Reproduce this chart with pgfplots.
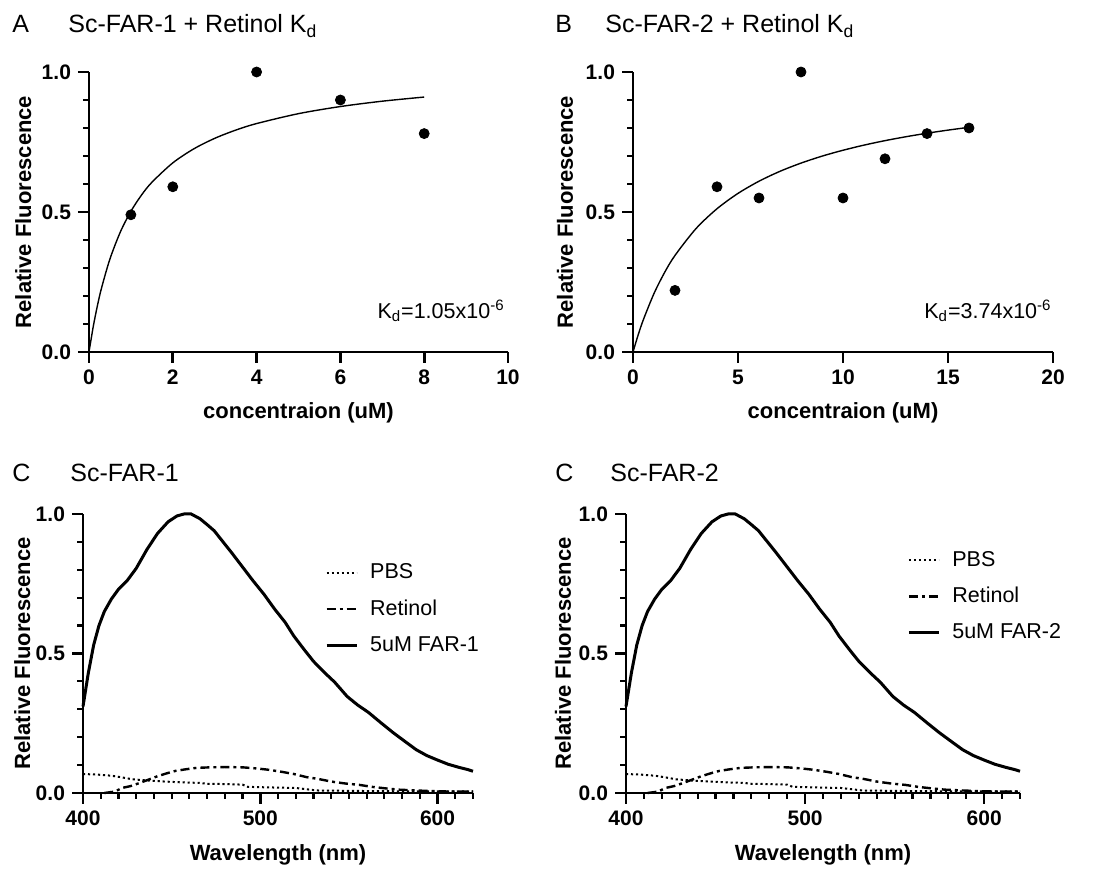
\documentclass[border=0pt]{standalone}
\usepackage{fontspec}
\setmainfont{Liberation Sans}
\usepackage{pgfplots}
\usepackage{pgfplotstable}
\pgfplotsset{compat=1.18}
\usetikzlibrary{calc}

% emission spectra (same scans used for both C panels)
\pgfplotstableread{
nm f
400 0.31
403 0.43
406 0.53
409 0.60
412 0.65
416 0.695
420 0.73
425 0.762
430 0.805
436 0.872
442 0.930
448 0.972
453 0.993
457 1.000
461 1.000
466 0.983
470 0.962
474 0.940
479 0.900
484 0.860
490 0.810
496 0.760
502 0.713
508 0.660
514 0.612
519 0.562
525 0.512
530 0.472
536 0.433
542 0.397
549 0.346
555 0.315
561 0.289
568 0.252
575 0.216
582 0.183
588 0.155
594 0.134
600 0.118
606 0.103
612 0.092
617 0.084
620 0.078
}\farspec

\pgfplotstableread{
nm f
412 0.000
418 0.005
422 0.018
427 0.025
432 0.036
437 0.048
442 0.060
447 0.070
452 0.079
458 0.085
464 0.090
472 0.092
480 0.093
490 0.092
498 0.088
505 0.083
512 0.076
519 0.068
526 0.057
533 0.050
540 0.041
548 0.034
556 0.029
563 0.022
570 0.017
578 0.012
588 0.009
600 0.006
610 0.005
620 0.005
}\retinol

\pgfplotstableread{
nm f
400 0.068
408 0.066
416 0.062
422 0.056
428 0.049
436 0.045
446 0.041
456 0.038
466 0.036
470 0.033
480 0.032
490 0.030
493 0.022
505 0.020
520 0.018
528 0.012
532 0.009
545 0.008
560 0.007
580 0.006
600 0.006
620 0.006
}\pbs

\pgfplotsset{
  prism/.style={
    scale only axis,
    axis x line*=bottom,
    axis y line*=left,
    axis line style={-, line width=1.4pt},
    every tick/.style={line width=1.3pt, black},
    xtick align=outside,
    ytick align=outside,
    major tick length=5.5pt,
    minor tick length=3pt,
    enlargelimits=false,
    clip=false,
    ymin=0, ymax=1,
    ytick={0,0.5,1},
    yticklabel style={/pgf/number format/.cd, fixed, fixed zerofill, precision=1},
    ticklabel style={font=\fontsize{10.5}{12}\selectfont\bfseries},
    /pgf/number format/assume math mode=true,
    label style={font=\fontsize{11}{13}\selectfont\bfseries},
    ylabel={Relative Fluorescence},
  },
  fitdots/.style={only marks, mark=*, mark size=2.5pt, black},
  fitline/.style={black, line width=0.7pt, smooth},
  spec/.style={
    xmin=400, xmax=620,
    xtick={400,500,600},
    xlabel={Wavelength (nm)},
    xlabel style={at={(axis description cs:0.5,-0.222)}, anchor=center},
    legend cell align=left,
    legend image code/.code={\draw[##1] (0pt,0pt) -- (15pt,0pt);},
    legend style={draw=none, fill=none, inner sep=0pt, row sep=7pt,
      column sep=5pt, font=\fontsize{10.75}{12}\selectfont,
      nodes={inner sep=1pt}},
  },
  pbsline/.style={black, line width=1pt, dash pattern=on 1.1pt off 1.4pt},
  retline/.style={black, line width=1.2pt, dash pattern=on 4.5pt off 2pt on 1.5pt off 2pt},
  farline/.style={black, line width=1.5pt},
}

% outward ticks along the left edge of a named axis (fractions of its height)
\newcommand\leftticks[1]{%
  \foreach \f in {0,0.5,1}
    \draw[line width=1.3pt] ($(#1.south west)!\f!(#1.north west)$) -- ++(-5.5pt,0);
  \foreach \f in {0.1,0.2,0.3,0.4,0.6,0.7,0.8,0.9}
    \draw[line width=1.1pt] ($(#1.south west)!\f!(#1.north west)$) -- ++(-3pt,0);
}

\begin{document}
\begin{tikzpicture}
\path (0,0) rectangle (548.5pt,435.5pt);

% panel titles
\tikzset{ttl/.style={anchor=base west, inner sep=0pt, font=\fontsize{12.5}{14}\selectfont}}
\node[ttl] at (6pt,419pt) {A};
\node[ttl] at (34pt,419pt) {Sc-FAR-1 + Retinol K\textsubscript{d}};
\node[ttl] at (277.5pt,419pt) {B};
\node[ttl] at (302.5pt,419pt) {Sc-FAR-2 + Retinol K\textsubscript{d}};
\node[ttl] at (6pt,194.5pt) {C};
\node[ttl] at (35pt,194.5pt) {Sc-FAR-1};
\node[ttl] at (277.5pt,194.5pt) {C};
\node[ttl] at (305pt,194.5pt) {Sc-FAR-2};

% A: FAR-1 binding
\begin{axis}[prism, name=pa, at={(44.5pt,259.5pt)}, anchor=south west,
  width=209.5pt, height=140pt,
  xmin=0, xmax=10, xtick={0,2,...,10},
  xlabel={concentraion (uM)},
  xlabel style={at={(axis description cs:0.5,-0.218)}, anchor=center},
  ylabel style={at={(axis description cs:-0.157,0.5)}, anchor=center},
]
\addplot[fitline] coordinates {
  (0,0) (0.1,0.0896) (0.2,0.1648) (0.3,0.2289) (0.5,0.3323) (0.75,0.4292)
  (1,0.5024) (1.25,0.5598) (1.5,0.6059) (2,0.6754) (2.5,0.7254) (3,0.7630)
  (3.5,0.7923) (4,0.8158) (5,0.8512) (6,0.8766) (7,0.8957) (8,0.9105)
};
\addplot[fitdots] coordinates {(1,0.49) (2,0.59) (4,1.0) (6,0.90) (8,0.78)};
\node[anchor=base east, inner sep=0pt, font=\fontsize{10.75}{12}\selectfont] at (axis cs:9.93,0.121)
  {K\textsubscript{d}=1.05x10\textsuperscript{-6}};
\end{axis}

% B: FAR-2 binding
\begin{axis}[prism, name=pb, at={(316.5pt,259.5pt)}, anchor=south west,
  width=210pt, height=140pt,
  xmin=0, xmax=20, xtick={0,5,...,20},
  xlabel={concentraion (uM)},
  xlabel style={at={(axis description cs:0.5,-0.218)}, anchor=center},
  ylabel style={at={(axis description cs:-0.162,0.5)}, anchor=center},
]
\addplot[fitline] coordinates {
  (0,0) (0.25,0.0620) (0.5,0.1167) (1,0.2089) (1.5,0.2834) (2,0.3449)
  (3,0.4407) (4,0.5116) (5,0.5664) (6,0.6099) (7,0.6453) (8,0.6746)
  (9,0.6994) (10,0.7205) (11,0.7388) (12,0.7548) (13,0.7688) (14,0.7813)
  (15,0.7924) (16,0.8024)
};
\addplot[fitdots] coordinates {(2,0.22) (4,0.59) (6,0.55) (8,1.0) (10,0.55) (12,0.69) (14,0.78) (16,0.80)};
\node[anchor=base east, inner sep=0pt, font=\fontsize{10.75}{12}\selectfont] at (axis cs:19.95,0.121)
  {K\textsubscript{d}=3.74x10\textsuperscript{-6}};
\end{axis}

% C: FAR-1 spectra
\begin{axis}[prism, spec, name=pc, at={(41.5pt,39pt)}, anchor=south west,
  width=195pt, height=139.5pt,
  ylabel style={at={(axis description cs:-0.156,0.5)}, anchor=center},
  legend style={at={(axis description cs:0.62,0.83)}, anchor=north west},
]
\addplot[pbsline] table[x=nm, y=f] {\pbs};
\addlegendentry{PBS}
\addplot[retline] table[x=nm, y=f] {\retinol};
\addlegendentry{Retinol}
\addplot[farline] table[x=nm, y=f] {\farspec};
\addlegendentry{5uM FAR-1}
\end{axis}

% C (right): FAR-2 spectra
\begin{axis}[prism, spec, name=pd, at={(313pt,39pt)}, anchor=south west,
  width=197pt, height=139.5pt,
  ylabel style={at={(axis description cs:-0.16,0.5)}, anchor=center},
  legend style={at={(axis description cs:0.713,0.875)}, anchor=north west},
]
\addplot[pbsline] table[x=nm, y=f] {\pbs};
\addlegendentry{PBS}
\addplot[retline] table[x=nm, y=f] {\retinol};
\addlegendentry{Retinol}
\addplot[farline] table[x=nm, y=f] {\farspec};
\addlegendentry{5uM FAR-2}
\end{axis}

% tick marks, pointing outward as in the reference
\leftticks{pa}
\leftticks{pb}
\leftticks{pc}
\leftticks{pd}
\foreach \f in {0,0.2,0.4,0.6,0.8,1}
  \draw[line width=1.3pt] ($(pa.south west)!\f!(pa.south east)$) -- ++(0,-5.5pt);
\foreach \f in {0,0.25,0.5,0.75,1}
  \draw[line width=1.3pt] ($(pb.south west)!\f!(pb.south east)$) -- ++(0,-5.5pt);
\foreach \p in {pc,pd}{
  \foreach \k in {0,10,20}
    \draw[line width=1.3pt] ($(\p.south west)!\k/22!(\p.south east)$) -- ++(0,-5.5pt);
  \foreach \k in {1,2,3,4,5,6,7,8,9,11,12,13,14,15,16,17,18,19,21,22}
    \draw[line width=1.1pt] ($(\p.south west)!\k/22!(\p.south east)$) -- ++(0,-3pt);
}
\end{tikzpicture}
\end{document}
